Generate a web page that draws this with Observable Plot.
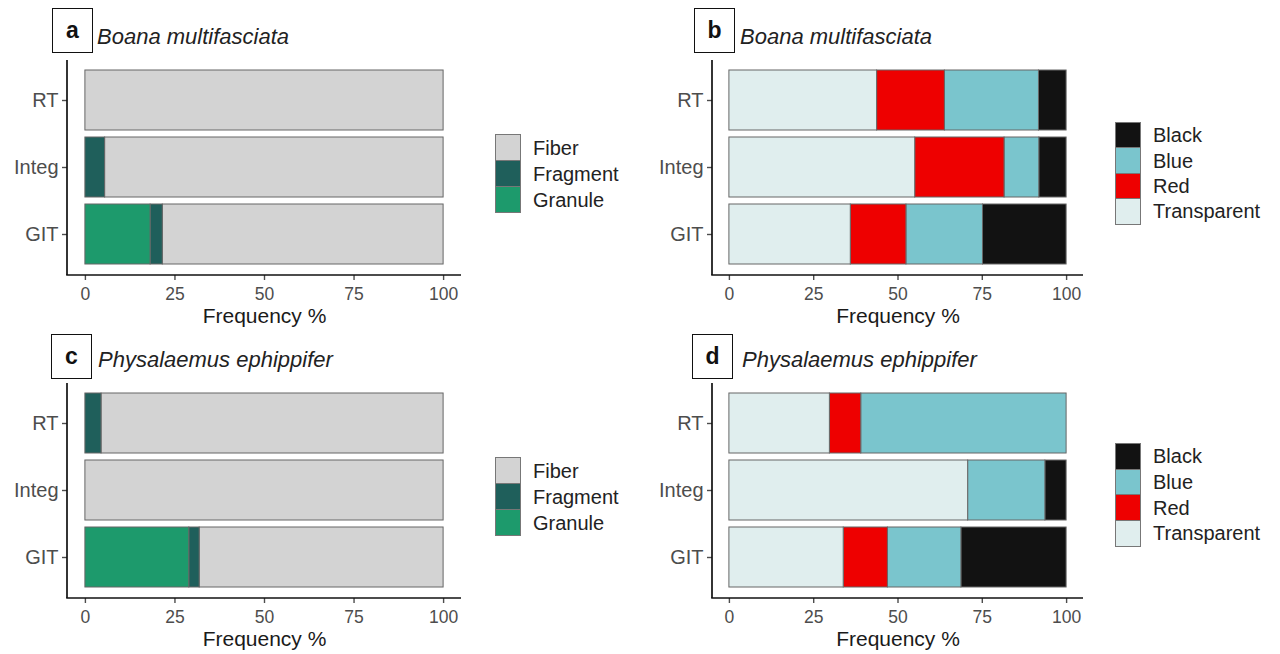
<!DOCTYPE html>
<html><head><meta charset="utf-8">
<script src="https://cdn.jsdelivr.net/npm/d3@7"></script>
<script src="https://cdn.jsdelivr.net/npm/@observablehq/plot@0.6"></script>
<style>
body{margin:0;background:#fff;font-family:"Liberation Sans",Arial,sans-serif;}
#root{position:relative;width:1280px;height:654px;overflow:hidden;background:#fff;}
.box{position:absolute;border:1.6px solid #111;box-sizing:border-box;font-weight:bold;display:flex;align-items:center;justify-content:center;color:#111;font-size:23px;line-height:1;}
.title{position:absolute;font-style:italic;color:#222;white-space:nowrap;font-size:22px;line-height:1;}
.plotwrap{position:absolute;}
.leg{position:absolute;}
.item{display:flex;align-items:center;height:26px;}
.sw{width:26px;height:26px;box-sizing:border-box;border:1px solid #777;margin-top:-1px;}
.lab{margin-left:12px;font-size:20px;color:#222;white-space:nowrap;}
</style></head><body><div id="root"></div>
<script>
// ---- data ----
const sites = ["RT", "Integ", "GIT"];
const shapeTypes = ["Fiber", "Fragment", "Granule"];
const colorTypes = ["Black", "Blue", "Red", "Transparent"];
const xTicks = [0, 25, 50, 75, 100];
const xTitle = "Frequency %";
const speciesA = "Boana multifasciata";
const speciesB = "Physalaemus ephippifer";

// Boana multifasciata – shape (values per site: RT, Integ, GIT)
const fiberA    = [100, 94.5, 78.4];
const fragmentA = [0, 5.5, 3.4];
const granuleA  = [0, 0, 18.2];
// Boana multifasciata – colour
const blackB       = [8.2, 8.1, 24.8];
const blueB        = [27.9, 10.3, 22.7];
const redB         = [20.1, 26.5, 16.5];
const transparentB = [43.8, 55.1, 36.0];
// Physalaemus ephippifer – shape
const fiberC    = [95.5, 100, 68.1];
const fragmentC = [4.5, 0, 2.9];
const granuleC  = [0, 0, 29.0];
// Physalaemus ephippifer – colour
const blackD       = [0, 6.3, 31.2];
const blueD        = [60.9, 22.9, 21.8];
const redD         = [9.3, 0, 13.1];
const transparentD = [29.8, 70.8, 33.9];

const shapeColors = ["#d3d3d3", "#1f5f5b", "#1d9a6c"];
const colorColors = ["#121212", "#7ac5cd", "#ee0000", "#e0eeee"];

const root = document.getElementById("root");

function panel(cfg) {
  const data = [];
  cfg.types.forEach((t, i) => sites.forEach((s, j) => {
    const v = cfg.values[i][j];
    if (v > 0) data.push({site: s, type: t, value: v});
  }));
  const H = 274, MT = 4, MB = 55;
  const chart = Plot.plot({
    width: cfg.w, height: H,
    marginLeft: cfg.ml, marginRight: cfg.mr, marginTop: MT, marginBottom: MB,
    style: {fontFamily: "Liberation Sans, Arial, sans-serif", background: "transparent", overflow: "visible"},
    x: {domain: [0, 100], insetLeft: cfg.inset, insetRight: cfg.inset},
    y: {domain: sites, paddingInner: 0.1, paddingOuter: 0.15},
    color: {type: "ordinal", domain: cfg.types, range: cfg.colors},
    marks: [
      Plot.barX(data, Plot.stackX({x: "value", y: "site", z: "type",
        fill: {value: d => d.type, scale: "color"},
        order: cfg.types.slice().reverse(), stroke: "#666", strokeWidth: 1})),
      Plot.axisX({ticks: xTicks, tickSize: 5, tickPadding: 7, fontSize: 17.5, color: "#4d4d4d", strokeWidth: 1.4, label: null}),
      Plot.axisY({tickSize: 5, tickPadding: 4, fontSize: 20, color: "#4d4d4d", strokeWidth: 1.4, label: null}),
      Plot.text([xTitle], {text: d => d, frameAnchor: "bottom", dy: 47, fontSize: 21, fill: "#1a1a1a"})
    ]
  });
  const svg = d3.select(chart);
  // axis lines (theme_classic)
  svg.append("line").attr("x1", cfg.ml).attr("x2", cfg.ml).attr("y1", MT).attr("y2", H - MB)
    .attr("stroke", "#111").attr("stroke-width", 1.7);
  svg.append("line").attr("x1", cfg.ml - 0.8).attr("x2", cfg.w - cfg.mr).attr("y1", H - MB).attr("y2", H - MB)
    .attr("stroke", "#111").attr("stroke-width", 1.7);

  const wrap = document.createElement("div");
  wrap.className = "plotwrap";
  wrap.style.left = cfg.left + "px";
  wrap.style.top = cfg.top + "px";
  wrap.appendChild(chart);
  root.appendChild(wrap);

  const box = document.createElement("div");
  box.className = "box";
  box.textContent = cfg.letter;
  Object.assign(box.style, {left: cfg.boxLeft + "px", top: cfg.boxTop + "px", width: "41px", height: "45px"});
  root.appendChild(box);

  const title = document.createElement("div");
  title.className = "title";
  title.textContent = cfg.title;
  Object.assign(title.style, {left: cfg.titleLeft + "px", top: cfg.titleTop + "px"});
  root.appendChild(title);

  const leg = d3.select(root).append("div").attr("class", "leg")
    .style("left", cfg.legLeft + "px").style("top", cfg.legTop + "px");
  const items = leg.selectAll("div.item").data(cfg.types).join("div").attr("class", "item")
    .style("height", cfg.legStep + "px");
  items.append("div").attr("class", "sw").style("height", (cfg.legStep + 1) + "px")
    .style("background", (d, i) => cfg.colors[i]);
  items.append("div").attr("class", "lab").text(d => d);
}

const dy = 323;
panel({letter: "a", title: speciesA, types: shapeTypes, values: [fiberA, fragmentA, granuleA], colors: shapeColors,
  left: 0, top: 56, w: 480, ml: 67, mr: 19, inset: 17.9,
  boxLeft: 52, boxTop: 8, titleLeft: 97, titleTop: 26, legLeft: 495, legTop: 135, legStep: 26});
panel({letter: "b", title: speciesA, types: colorTypes, values: [blackB, blueB, redB, transparentB], colors: colorColors,
  left: 640, top: 56, w: 460, ml: 72, mr: 17, inset: 16.9,
  boxLeft: 694, boxTop: 8, titleLeft: 740, titleTop: 26, legLeft: 1115, legTop: 123, legStep: 25.4});
panel({letter: "c", title: speciesB, types: shapeTypes, values: [fiberC, fragmentC, granuleC], colors: shapeColors,
  left: 0, top: 56 + dy, w: 480, ml: 67, mr: 19, inset: 17.9,
  boxLeft: 51, boxTop: 334, titleLeft: 98, titleTop: 26 + dy, legLeft: 495, legTop: 458, legStep: 26});
panel({letter: "d", title: speciesB, types: colorTypes, values: [blackD, blueD, redD, transparentD], colors: colorColors,
  left: 640, top: 56 + dy, w: 460, ml: 72, mr: 17, inset: 16.9,
  boxLeft: 692, boxTop: 334, titleLeft: 742, titleTop: 26 + dy, legLeft: 1115, legTop: 444, legStep: 25.7});
</script></body></html>
